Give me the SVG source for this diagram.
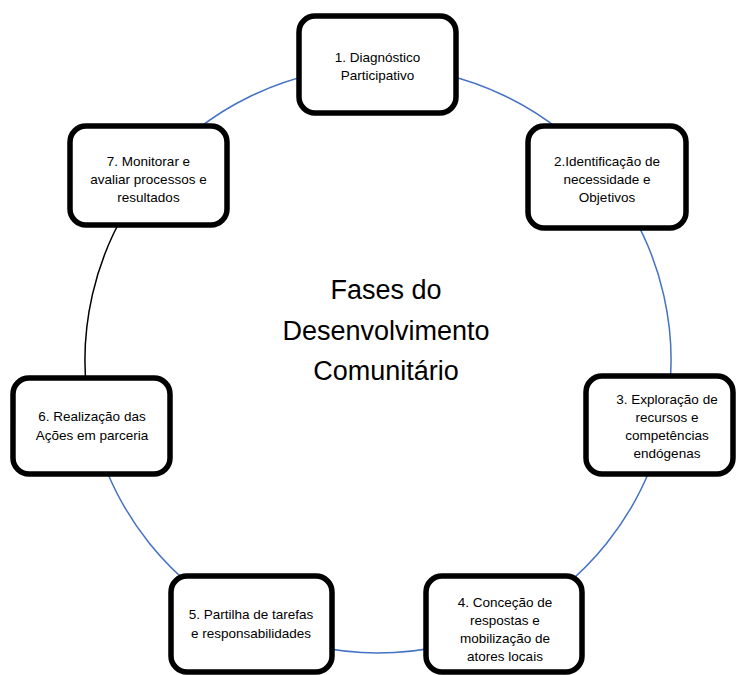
<svg xmlns="http://www.w3.org/2000/svg" width="736" height="675" viewBox="0 0 736 675">
<style>
.box{fill:#fff;stroke:#000;stroke-width:5.5}
.t{font-family:"Liberation Sans",Arial,sans-serif;font-size:13.5px;fill:#000;text-anchor:middle}
.title{font-family:"Liberation Sans",Arial,sans-serif;font-size:27px;fill:#000;text-anchor:middle}
.c{fill:none;stroke:#4472C4;stroke-width:1.5}
.k{fill:none;stroke:#000;stroke-width:1.5}
</style>
<rect width="736" height="675" fill="#fff"/>
<g id="connectors">
<path class="c" d="M378,67 A293,293 0 0 1 607,177.2"/>
<path class="c" d="M607,177.2 A293,293 0 0 1 663.5,425.9"/>
<path class="c" d="M663.5,425.9 A293,293 0 0 1 504.1,624.5"/>
<path class="c" d="M504.1,624.5 A293,293 0 0 1 251.4,624.2"/>
<path class="c" d="M251.4,624.2 A293,293 0 0 1 92.5,425.9"/>
<path class="k" d="M92.5,425.9 A293,293 0 0 1 149.7,176.4"/>
<path class="c" d="M149.7,176.4 A293,293 0 0 1 378,67"/>
</g>
<g id="title">
<text class="title" x="386" y="299">Fases do</text>
<text class="title" x="386" y="340">Desenvolvimento</text>
<text class="title" x="386" y="380">Comunitário</text>
</g>
<g id="node1">
<rect class="box" x="299" y="16" width="157" height="97" rx="16"/>
<text class="t" x="377.5" y="62">1. Diagnóstico</text>
<text class="t" x="377.5" y="80">Participativo</text>
</g>
<g id="node2">
<rect class="box" x="528" y="126" width="158" height="102" rx="16"/>
<text class="t" x="607" y="166">2.Identificação de</text>
<text class="t" x="607" y="184">necessidade e</text>
<text class="t" x="607" y="202">Objetivos</text>
</g>
<g id="node3">
<rect class="box" x="586" y="376" width="147" height="98" rx="16"/>
<text class="t" x="667" y="404">3. Exploração de</text>
<text class="t" x="667" y="422">recursos e</text>
<text class="t" x="667" y="440">competências</text>
<text class="t" x="667" y="458">endógenas</text>
</g>
<g id="node4">
<rect class="box" x="426" y="576" width="156" height="96" rx="16"/>
<text class="t" x="505" y="607">4. Conceção de</text>
<text class="t" x="505" y="625">respostas e</text>
<text class="t" x="505" y="643">mobilização de</text>
<text class="t" x="505" y="661">atores locais</text>
</g>
<g id="node5">
<rect class="box" x="171" y="576" width="161" height="96" rx="16"/>
<text class="t" x="251" y="619">5. Partilha de tarefas</text>
<text class="t" x="251" y="638">e responsabilidades</text>
</g>
<g id="node6">
<rect class="box" x="13" y="378" width="157" height="96" rx="16"/>
<text class="t" x="92" y="421">6. Realização das</text>
<text class="t" x="92" y="440">Ações em parceria</text>
</g>
<g id="node7">
<rect class="box" x="70" y="126" width="157" height="99" rx="16"/>
<text class="t" x="148.5" y="166">7. Monitorar e</text>
<text class="t" x="148.5" y="184">avaliar processos e</text>
<text class="t" x="148.5" y="202">resultados</text>
</g>
</svg>
